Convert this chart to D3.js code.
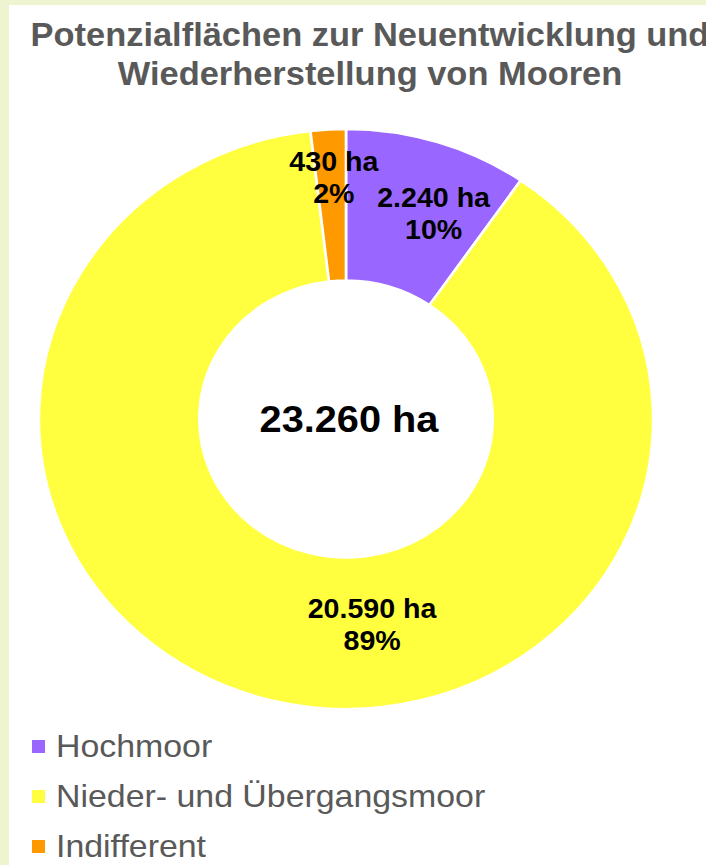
<!DOCTYPE html>
<html>
<head>
<meta charset="utf-8">
<script src="https://cdn.jsdelivr.net/npm/d3@7"></script>
<style>
  body { margin: 0; background: #eef4d0; overflow: hidden; }
  text { font-family: "Liberation Sans", Arial, sans-serif; }
</style>
</head>
<body>
<div id="chart"></div>
<script>
// data
var categories = ["Hochmoor", "Nieder- und Übergangsmoor", "Indifferent"];
var values = [2240, 20590, 430];
var valueLabels = ["2.240 ha", "20.590 ha", "430 ha"];
var percentLabels = ["10%", "89%", "2%"];
var totalLabel = "23.260 ha";
var titleLines = ["Potenzialflächen zur Neuentwicklung und", "Wiederherstellung von Mooren"];
var colors = ["#9966ff", "#ffff40", "#ff9900"];

// label nudges (px) away from the ring centroid, like Excel places them
var labelNudge = [[20, 0], [81, -2], [1, -27]];

var w = 706, h = 865,
    sx = 1.059,          // picture is a bit wider than tall
    cx = 346, cy = 419,
    outerR = 290,
    innerR = 138.5;

var svg = d3.select("#chart")
  .append("svg")
    .attr("width", w)
    .attr("height", h);

// white panel
svg.append("rect")
    .attr("x", 9)
    .attr("y", 5)
    .attr("width", w)
    .attr("height", h)
    .attr("fill", "#ffffff");

// title
svg.append("g")
    .selectAll("text")
    .data(titleLines)
    .enter()
    .append("text")
    .attr("transform", function(d, i) { return "translate(370," + (45.5 + i * 39.5) + ") scale(" + sx + ",1)"; })
    .attr("text-anchor", "middle")
    .attr("font-size", 32.5)
    .attr("font-weight", "bold")
    .attr("fill", "#595959")
    .text(function(d) { return d; });

var pie = d3.pie()
    .sort(null)
    .value(function(d) { return d; });

var arc = d3.arc()
    .innerRadius(innerR)
    .outerRadius(outerR);

var midArc = d3.arc()
    .innerRadius((innerR + outerR) / 2)
    .outerRadius((innerR + outerR) / 2);

var arcs = pie(values);

var ring = svg.append("g")
    .attr("transform", "translate(" + cx + "," + cy + ") scale(" + sx + ",1)");

ring.selectAll("path")
    .data(arcs)
    .enter()
    .append("path")
    .attr("d", arc)
    .attr("fill", function(d, i) { return colors[i]; })
    .attr("stroke", "#ffffff")
    .attr("stroke-width", 2.5);

// data labels
var labels = svg.append("g");
arcs.forEach(function(d, i) {
    var c = midArc.centroid(d);
    var x = cx + c[0] * sx + labelNudge[i][0];
    var y = cy + c[1] + labelNudge[i][1];
    var t = labels.append("text")
        .attr("transform", "translate(" + x + "," + y + ") scale(" + sx + ",1)")
        .attr("text-anchor", "middle")
        .attr("font-size", 27)
        .attr("font-weight", "bold")
        .attr("fill", "#000000");
    t.append("tspan").attr("x", 0).attr("y", -7).text(valueLabels[i]);
    t.append("tspan").attr("x", 0).attr("y", 25).text(percentLabels[i]);
});

// total in the hole
svg.append("text")
    .attr("transform", "translate(349," + (cy + 13) + ") scale(" + sx + ",1)")
    .attr("text-anchor", "middle")
    .attr("font-size", 37.5)
    .attr("font-weight", "bold")
    .attr("fill", "#000000")
    .text(totalLabel);

// legend
var legend = svg.append("g")
    .selectAll("g")
    .data(categories)
    .enter()
    .append("g")
    .attr("transform", function(d, i) { return "translate(32," + (740 + i * 50) + ")"; });

legend.append("rect")
    .attr("width", 13)
    .attr("height", 13)
    .attr("fill", function(d, i) { return colors[i]; });

legend.append("text")
    .attr("transform", "translate(24,16.5) scale(" + sx + ",1)")
    .attr("font-size", 32)
    .attr("fill", "#595959")
    .text(function(d) { return d; });
</script>
</body>
</html>
